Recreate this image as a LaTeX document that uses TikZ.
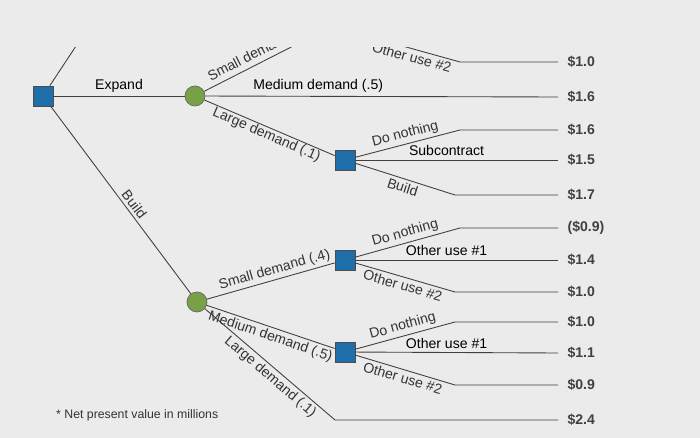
\documentclass[tikz,border=0pt]{standalone}
\usepackage{fontspec}
\setmainfont{Liberation Sans}
\begin{document}
\begin{tikzpicture}[x=0.02cm, y=-0.02cm, font=\footnotesize,
  decision/.style={draw=black!70, fill={rgb,255:red,30;green,110;blue,170}, minimum size=0.4cm, inner sep=0cm},
  chance/.style={draw=black!60, fill={rgb,255:red,120;green,160;blue,70}, circle, minimum size=0.4cm, inner sep=0cm},
  branch/.style={draw=black!75, line width=0.5pt},
  lbl/.style={sloped, above, inner sep=1.5pt, text=black!80},
  val/.style={right, inner sep=1pt, font=\footnotesize\bfseries, text=black!75}]
\fill[black!8] (0,0) rectangle (700,438);
\useasboundingbox (0,0) rectangle (700,438);

\begin{scope}
\clip (0,48) rectangle (700,438);
% nodes
\node[decision] (root) at (43,96) {};
\node[chance] (cexp) at (195,96) {};
\node[chance] (cbld) at (197,302) {};
\node[decision] (dlarge) at (345,160) {};
\node[decision] (dsmall) at (345,260) {};
\node[decision] (dmed) at (345,352) {};
\coordinate (dtop) at (345,30);
\coordinate (rup) at (80,40);

% break points and ends
\foreach \n/\x/\y in {ptop/460/62, pdn1/460/130, pbld/455/195, pdn2/460/228,
  pou2a/455/292, pdn3/455/322, pou2b/455/385, plarge/335/420, psmall/305/40} {
  \coordinate (\n) at (\x,\y);
}
\foreach \n/\y in {e1/62, e2/97, e3/130, e4/160, e5/195, e6/228, e7/260, e8/292,
  e9/322, e10/353, e11/385, e12/420} {
  \coordinate (\n) at (558,\y);
}

% branches
\draw[branch] (root) -- (rup);
\draw[branch] (root) -- node[above, inner sep=2pt] {Expand} (cexp);
\draw[branch] (root) -- node[lbl, pos=0.55] {Build} (cbld);
\draw[branch] (cexp) -- node[lbl, pos=0.6] {Small demand (.4)} (psmall);
\draw[branch] (cexp) -- node[above, inner sep=2pt, pos=0.32] {Medium demand (.5)} (e2);
\draw[branch] (cexp) -- node[lbl, pos=0.5, below, yshift=1pt] {Large demand (.1)} (dlarge);
\draw[branch] (dtop) -- node[lbl, below, pos=0.6] {Other use \#2} (ptop) -- (e1);
\draw[branch] (dlarge) -- node[lbl, pos=0.5] {Do nothing} (pdn1) -- (e3);
\draw[branch] (dlarge) -- node[above, inner sep=2pt, pos=0.45] {Subcontract} (e4);
\draw[branch] (dlarge) -- node[lbl, below, pos=0.5] {Build} (pbld) -- (e5);
\draw[branch] (cbld) -- node[lbl, pos=0.55] {Small demand (.4)} (dsmall);
\draw[branch] (cbld) -- node[lbl, below, pos=0.52] {Medium demand (.5)} (dmed);
\draw[branch] (cbld) -- node[lbl, below, pos=0.55] {Large demand (.1)} (plarge) -- (e12);
\draw[branch] (dsmall) -- node[lbl, pos=0.5] {Do nothing} (pdn2) -- (e6);
\draw[branch] (dsmall) -- node[above, inner sep=2pt, pos=0.45] {Other use \#1} (e7);
\draw[branch] (dsmall) -- node[lbl, below, pos=0.5] {Other use \#2} (pou2a) -- (e8);
\draw[branch] (dmed) -- node[lbl, pos=0.5] {Do nothing} (pdn3) -- (e9);
\draw[branch] (dmed) -- node[above, inner sep=2pt, pos=0.45] {Other use \#1} (e10);
\draw[branch] (dmed) -- node[lbl, below, pos=0.5] {Other use \#2} (pou2b) -- (e11);
\end{scope}

% payoffs
\foreach \n/\v in {e1/\$1.0, e2/\$1.6, e3/\$1.6, e4/\$1.5, e5/\$1.7, e6/(\$0.9),
  e7/\$1.4, e8/\$1.0, e9/\$1.0, e10/\$1.1, e11/\$0.9, e12/\$2.4} {
  \node[val] at ([xshift=0.15cm]\n) {\v};
}
\node[right, font=\scriptsize, text=black!80] (note) at (50,415) {* Net present value in millions};
\end{tikzpicture}
\end{document}
